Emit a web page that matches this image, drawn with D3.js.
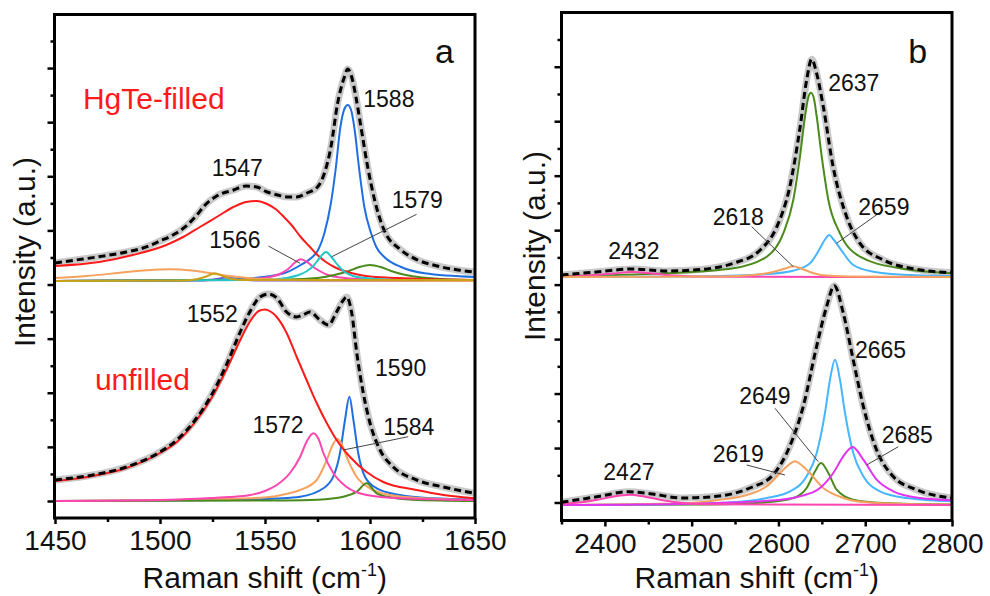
<!DOCTYPE html>
<html>
<head>
<meta charset="utf-8">
<script src="https://cdn.jsdelivr.net/npm/d3@7"></script>
<style>
    body { margin: 0; background: #fff; }
    svg { display: block; font-family: Arial, "Liberation Sans", sans-serif; }
</style>
</head>
<body>
<svg id="chart" width="990" height="596"></svg>
<script>
"use strict";

// ---- data (Raman shift in cm-1, intensity in a.u. above each baseline) ----

// panel a, HgTe-filled
const aTopFit = [[1450,0.18],[1460,0.21],[1470,0.24],[1484,0.29],[1492,0.33],[1500,0.40],[1507,0.47],[1513,0.56],[1518,0.67],[1521,0.75],[1527,0.85],[1535,0.91],[1541,0.95],[1546,0.94],[1551,0.89],[1556,0.86],[1561,0.84],[1565,0.84],[1570,0.88],[1575,0.94],[1578,1.06],[1581.4,1.34],[1584.6,1.78],[1587.8,2.04],[1589.4,2.12],[1591,2.06],[1593.3,1.84],[1595.7,1.54],[1598.9,1.14],[1602.2,0.81],[1606.7,0.51],[1614.8,0.31],[1622.7,0.21],[1632,0.15],[1642,0.11],[1650,0.09]];
const aTopRed = [[1450,0.15],[1471,0.19],[1487,0.26],[1503,0.36],[1511,0.44],[1519,0.54],[1527,0.64],[1535,0.74],[1541,0.79],[1546,0.80],[1551,0.77],[1555,0.72],[1559,0.64],[1563,0.55],[1567,0.44],[1571,0.35],[1575,0.26],[1579,0.19],[1583,0.14],[1591,0.08],[1598,0.05],[1613,0.03],[1650,0.01]];
const aTopBlue = [[1450,0.0],[1520,0.01],[1543,0.027],[1559,0.077],[1567,0.16],[1572,0.23],[1575,0.30],[1578.3,0.48],[1581.4,0.78],[1583.6,1.11],[1585.9,1.54],[1587.8,1.72],[1589.4,1.76],[1591,1.71],[1592.5,1.54],[1594.9,1.11],[1597.3,0.74],[1600.5,0.48],[1603,0.34],[1606.8,0.24],[1614.8,0.14],[1626,0.077],[1650,0.04]];
const aTopPink = [[1450,0.0],[1535,0.01],[1545,0.02],[1552,0.04],[1557,0.07],[1561,0.12],[1564,0.18],[1567,0.217],[1570,0.19],[1573,0.14],[1576,0.10],[1580,0.06],[1586,0.035],[1595,0.02],[1650,0.005]];
const aTopCyan = [[1450,0.0],[1550,0.01],[1560,0.03],[1566,0.06],[1570,0.10],[1573,0.15],[1576,0.23],[1579,0.29],[1582,0.23],[1585,0.15],[1588,0.09],[1592,0.05],[1600,0.025],[1615,0.01],[1650,0.0]];
const aTopGreen = [[1450,0.0],[1560,0.015],[1575,0.03],[1583,0.06],[1590,0.10],[1595,0.14],[1600,0.16],[1605,0.14],[1610,0.10],[1617,0.06],[1625,0.035],[1640,0.015],[1650,0.01]];
const aTopOrange = [[1450,0.03],[1465,0.05],[1480,0.08],[1492,0.105],[1505,0.117],[1515,0.105],[1525,0.075],[1533,0.05],[1542,0.03],[1555,0.015],[1575,0.006],[1650,0.0]];
const aTopGold = [[1450,0.0],[1512,0.005],[1518,0.02],[1522,0.045],[1526,0.077],[1530,0.05],[1534,0.02],[1540,0.01],[1650,0.01]];
const aTopPurple = [[1450,0.0],[1520,0.005],[1527,0.02],[1532,0.04],[1537,0.02],[1545,0.005],[1650,0.0]];

// panel a, unfilled
const aBotFit = [[1450,0.21],[1468,0.26],[1484,0.34],[1500,0.49],[1508,0.61],[1516,0.79],[1524,1.04],[1532,1.38],[1538,1.68],[1543,1.90],[1547.6,2.04],[1551.6,2.07],[1555.6,2.03],[1560.3,1.89],[1565.1,1.84],[1568,1.86],[1571.4,1.89],[1576.2,1.81],[1580.2,1.76],[1584.1,1.89],[1587,2.0],[1588.9,2.04],[1591.3,1.88],[1593.7,1.48],[1596.8,1.08],[1600,0.78],[1604.8,0.51],[1611.1,0.34],[1622.2,0.21],[1634.9,0.14],[1650,0.077]];
const aBotRed = [[1450,0.20],[1468,0.25],[1484,0.33],[1500,0.48],[1508,0.59],[1516,0.77],[1524,1.01],[1532,1.33],[1538,1.60],[1543,1.80],[1547,1.90],[1550,1.915],[1553,1.89],[1555.6,1.84],[1560.3,1.68],[1565.1,1.44],[1569.8,1.21],[1574.6,0.98],[1579.4,0.78],[1584.1,0.61],[1590.5,0.44],[1598.4,0.29],[1606.3,0.19],[1622.2,0.11],[1635,0.06],[1650,0.027]];
const aBotPink = [[1450,0.0],[1500,0.01],[1520,0.025],[1533,0.04],[1543,0.06],[1550,0.10],[1555.6,0.16],[1561.9,0.28],[1566.7,0.44],[1570,0.60],[1573,0.677],[1575.5,0.62],[1577.8,0.48],[1582.5,0.28],[1588.9,0.14],[1598.4,0.06],[1614.3,0.027],[1650,0.01]];
const aBotOrange = [[1450,0.0],[1530,0.02],[1550.8,0.037],[1560,0.07],[1566.7,0.11],[1574.6,0.21],[1579.4,0.41],[1582,0.55],[1584.4,0.62],[1586.5,0.57],[1588.9,0.44],[1593.7,0.24],[1600,0.127],[1609.5,0.06],[1625.4,0.027],[1650,0.01]];
const aBotBlue = [[1450,0.0],[1540,0.01],[1555,0.025],[1566.7,0.043],[1577.8,0.127],[1582.5,0.243],[1585.7,0.477],[1588.1,0.81],[1590.2,1.043],[1592.1,0.81],[1594.4,0.477],[1597.6,0.243],[1603.2,0.127],[1614.3,0.06],[1630,0.027],[1650,0.015]];
const aBotGreen = [[1450,0.0],[1560,0.005],[1575,0.013],[1587.3,0.043],[1593.7,0.093],[1598.4,0.177],[1603.2,0.077],[1609.5,0.037],[1620,0.013],[1650,0.0]];

// panel b, HgTe-filled
const bTopFit = [[2350,0.02],[2390,0.05],[2432,0.08],[2471,0.06],[2510,0.075],[2548,0.137],[2579,0.27],[2598,0.50],[2613,0.90],[2625,1.50],[2632.5,1.97],[2638.3,2.177],[2644,2.037],[2651.7,1.703],[2663,1.103],[2678.6,0.603],[2694,0.337],[2721,0.17],[2759,0.077],[2800,0.043]];
const bTopGreen = [[2350,0.01],[2471,0.037],[2548,0.087],[2586.5,0.203],[2605.6,0.437],[2617.1,0.77],[2624.8,1.203],[2630.6,1.603],[2634.5,1.80],[2637.5,1.843],[2641,1.78],[2644.1,1.603],[2649.9,1.203],[2657.5,0.77],[2670.9,0.437],[2694,0.203],[2740,0.087],[2800,0.037]];
const bTopBlue = [[2350,0.0],[2500,0.005],[2586.5,0.03],[2617,0.063],[2636.4,0.137],[2647.9,0.287],[2654,0.38],[2658.6,0.42],[2663,0.38],[2670.9,0.287],[2686.2,0.12],[2709.3,0.053],[2759,0.017],[2800,0.01]];
const bTopOrange = [[2350,0.0],[2540,0.005],[2567,0.017],[2594,0.05],[2608,0.085],[2617,0.107],[2626,0.085],[2636.4,0.05],[2651,0.017],[2680,0.005],[2800,0.0]];
const bTopPink = [[2350,0.003],[2380,0.015],[2410,0.035],[2431,0.05],[2455,0.035],[2480,0.015],[2520,0.003],[2800,0.0]];

// panel b, unfilled
const bBotFit = [[2350,0.027],[2394,0.087],[2427,0.133],[2452,0.113],[2490,0.07],[2529,0.087],[2567,0.17],[2594,0.303],[2613,0.587],[2628.6,0.987],[2644,1.587],[2655.6,1.987],[2664.4,2.193],[2674.7,1.92],[2686.2,1.45],[2697.8,0.987],[2713,0.553],[2732,0.287],[2759,0.153],[2800,0.07]];
const bBotPink = [[2350,0.01],[2370,0.025],[2390,0.05],[2410,0.085],[2428.9,0.103],[2445,0.085],[2465,0.05],[2490,0.02],[2520,0.007],[2800,0.0]];
const bBotOrange = [[2350,0.0],[2450,0.01],[2500,0.02],[2528.8,0.047],[2567,0.11],[2586.5,0.187],[2605.6,0.353],[2613,0.41],[2619.1,0.437],[2625,0.41],[2632.5,0.353],[2651.7,0.17],[2674.7,0.07],[2701,0.027],[2750,0.01],[2800,0.005]];
const bBotGreen = [[2350,0.0],[2520,0.005],[2586.5,0.027],[2617.1,0.07],[2632.5,0.17],[2642.2,0.337],[2649,0.42],[2657.5,0.32],[2667.1,0.153],[2686.2,0.053],[2720.8,0.02],[2800,0.005]];
const bBotBlue = [[2350,0.0],[2500,0.013],[2548,0.027],[2586.5,0.07],[2613.3,0.137],[2632.5,0.287],[2644.1,0.52],[2653.6,0.92],[2659.4,1.253],[2665.2,1.453],[2670.9,1.253],[2676.7,0.92],[2686.2,0.52],[2697.8,0.287],[2717,0.137],[2747.7,0.07],[2800,0.037]];
const bBotMagenta = [[2350,0.0],[2500,0.013],[2600,0.05],[2624.8,0.087],[2647.9,0.17],[2663.2,0.32],[2674.7,0.487],[2685.5,0.58],[2697.8,0.453],[2713.2,0.253],[2732.4,0.137],[2763.1,0.07],[2800,0.047]];

// tick labels
const aTicksMajor = [1450, 1500, 1550, 1600, 1650];
const aTicksMinor = [1475, 1525, 1575, 1625];
const bTicksMajor = [2400, 2500, 2600, 2700, 2800];
const bTicksMinor = [2350, 2450, 2550, 2650, 2750];



// colors
const colors = {
    red: "#ff1a1a", blue: "#1f6fe0", pink: "#ff45b0", cyan: "#22c8c8", green: "#4a8a1c",
    orange: "#f6a25e", gold: "#c9a21a", purple: "#8c5ad8", sky: "#45b6ff", magenta: "#e033f0"
};



// layout
const panels = [
    {
        label: "a", domain: [1450, 1650], left: 54.5, right: 475, top: 14.5, bottom: 518,
        xStart: 55, xEnd: 475, tickY: [501, 41], titleX: 35, titleY: 252,
        major: aTicksMajor, minor: aTicksMinor,
        subs: [
            { base: 281, fit: aTopFit, comps: [
                [aTopPurple, "purple"], [aTopBlue, "blue"], [aTopPink, "pink"], [aTopGreen, "green"],
                [aTopRed, "red"], [aTopCyan, "cyan"], [aTopOrange, "orange"], [aTopGold, "gold"]] },
            { base: 501, fit: aBotFit, comps: [
                [aBotBlue, "blue"], [aBotOrange, "orange"], [aBotGreen, "green"], [aBotPink, "pink"], [aBotRed, "red"]] }
        ],
        notes: [
            { s: 0, t: "HgTe-filled", x: 1463.3, y: 1.72, size: 30, fill: colors.red },
            { s: 0, t: "a", x: 1631, y: 2.18, size: 34 },
            { s: 0, t: "1547", x: 1524.6, y: 1.05 },
            { s: 0, t: "1588", x: 1596.8, y: 1.737 },
            { s: 0, t: "1579", x: 1610.3, y: 0.727, lead: [[1622.2, 0.667], [1581.8, 0.243]] },
            { s: 0, t: "1566", x: 1523.5, y: 0.327, lead: [[1551.6, 0.35], [1566.7, 0.177]] },
            { s: 1, t: "unfilled", x: 1469, y: 1.11, size: 30, fill: colors.red },
            { s: 1, t: "1552", x: 1512.7, y: 1.793 },
            { s: 1, t: "1590", x: 1602.4, y: 1.253 },
            { s: 1, t: "1572", x: 1544, y: 0.677 },
            { s: 1, t: "1584", x: 1606.3, y: 0.66, lead: [[1618.2, 0.643], [1587.3, 0.51]] }
        ]
    },
    {
        label: "b", domain: [2350, 2800], left: 561.5, right: 952, top: 12.5, bottom: 520.5,
        xStart: 561.5, xEnd: 952, tickY: [502.5, 39.5], titleX: 545, titleY: 246,
        major: bTicksMajor, minor: bTicksMinor,
        subs: [
            { base: 277, fit: bTopFit, comps: [
                [bTopGreen, "green"], [bTopBlue, "sky"], [bTopPink, "pink"], [bTopOrange, "orange"]] },
            { base: 505, fit: bBotFit, comps: [
                [bBotGreen, "green"], [bBotBlue, "sky"], [bBotOrange, "orange"], [bBotMagenta, "magenta"], [bBotPink, "pink"]] }
        ],
        notes: [
            { s: 0, t: "b", x: 2749.6, y: 2.143, size: 34 },
            { s: 0, t: "2637", x: 2657.4, y: 1.863 },
            { s: 0, t: "2618", x: 2524.2, y: 0.52, lead: [[2569.2, 0.503], [2617.1, 0.103]] },
            { s: 0, t: "2659", x: 2692, y: 0.62, lead: [[2720.8, 0.67], [2667.1, 0.337]] },
            { s: 0, t: "2432", x: 2403.9, y: 0.177 },
            { s: 1, t: "2665", x: 2688.2, y: 1.467 },
            { s: 1, t: "2649", x: 2554.9, y: 1.01, lead: [[2596, 0.967], [2645.9, 0.433]] },
            { s: 1, t: "2619", x: 2524.2, y: 0.433, lead: [[2563.4, 0.4], [2607.5, 0.3]] },
            { s: 1, t: "2685", x: 2719, y: 0.617, lead: [[2738.1, 0.583], [2701.7, 0.4]] },
            { s: 1, t: "2427", x: 2398.2, y: 0.25 }
        ]
    }
];



const svg = d3.select("#chart");

panels.forEach(p => {

    let g = svg.append("g").attr("class", "panel_" + p.label);



    // scale for X
    let scaleX = d3.scaleLinear().domain(p.domain).range([p.xStart, p.xEnd]);



    // scales for Y, one per stacked spectrum (1 a.u. = 100 px)
    let scalesY = p.subs.map(s => d3.scaleLinear().domain([0, 1]).range([s.base, s.base - 100]));



    // spectra
    p.subs.forEach((s, i) => {
        let line = d3.line()
        .x(d => scaleX(d[0]))
        .y(d => scalesY[i](d[1]))
        .curve(d3.curveMonotoneX);

        // measured spectrum (grey) under everything
        g.append("path")
        .datum(s.fit)
        .attr("d", line)
        .attr("fill", "none")
        .attr("stroke", "#c9c9c9")
        .attr("stroke-width", 7)
        .attr("stroke-linejoin", "round");

        // fitted components
        s.comps.forEach(c => {
            g.append("path")
            .datum(c[0])
            .attr("d", line)
            .attr("fill", "none")
            .attr("stroke", colors[c[1]])
            .attr("stroke-width", 2);
        });

        // cumulative fit
        g.append("path")
        .datum(s.fit)
        .attr("d", line)
        .attr("fill", "none")
        .attr("stroke", "#000")
        .attr("stroke-width", 3)
        .attr("stroke-dasharray", "7,4");
    });



    // annotations
    p.notes.forEach(n => {
        let sy = scalesY[n.s];
        if (n.lead) {
            g.append("line")
            .attr("x1", scaleX(n.lead[0][0])).attr("y1", sy(n.lead[0][1]))
            .attr("x2", scaleX(n.lead[1][0])).attr("y2", sy(n.lead[1][1]))
            .attr("stroke", "#444")
            .attr("stroke-width", 1);
        }
        g.append("text")
        .attr("x", scaleX(n.x))
        .attr("y", sy(n.y))
        .attr("font-size", n.size || 23)
        .attr("fill", n.fill || "#111")
        .text(n.t);
    });



    // frame
    g.append("rect")
    .attr("x", p.left).attr("y", p.top)
    .attr("width", p.right - p.left).attr("height", p.bottom - p.top)
    .attr("fill", "none")
    .attr("stroke", "#000")
    .attr("stroke-width", 3);



    // y ticks (no labels), major every second
    let scaleTick = d3.scaleLinear().domain([0, 17]).range(p.tickY);
    let yMajor = g.append("g")
    .attr("transform", `translate(${p.left}, 0)`)
    .call(d3.axisLeft(scaleTick).tickValues(d3.range(0, 18, 2)).tickSize(7).tickFormat(""));
    let yMinor = g.append("g")
    .attr("transform", `translate(${p.left}, 0)`)
    .call(d3.axisLeft(scaleTick).tickValues(d3.range(1, 18, 2)).tickSize(4).tickFormat(""));
    [yMajor, yMinor].forEach(a => {
        a.select(".domain").remove();
        a.selectAll("line").attr("stroke-width", 2.5);
    });



    // x axis
    let xMajor = g.append("g")
    .attr("transform", `translate(0, ${p.bottom})`)
    .call(d3.axisBottom(scaleX).tickValues(p.major).tickSize(6).tickFormat(d3.format("d")));
    let xMinor = g.append("g")
    .attr("transform", `translate(0, ${p.bottom})`)
    .call(d3.axisBottom(scaleX).tickValues(p.minor).tickSize(4).tickFormat(""));
    [xMajor, xMinor].forEach(a => {
        a.select(".domain").remove();
        a.selectAll("line").attr("stroke-width", 2.5);
    });
    xMajor.selectAll("text")
    .attr("font-size", 28)
    .attr("font-family", null)
    .attr("fill", "#111")
    .attr("dy", null)
    .attr("y", 32);



    // axis titles
    let xt = g.append("text")
    .attr("x", (p.left + p.right) / 2)
    .attr("y", 588)
    .attr("text-anchor", "middle")
    .attr("font-size", 30)
    .attr("fill", "#111");
    xt.append("tspan").text("Raman shift (cm");
    xt.append("tspan").attr("font-size", 18).attr("dy", -12).text("-1");
    xt.append("tspan").attr("dy", 12).text(")");

    g.append("text")
    .attr("transform", `translate(${p.titleX}, ${p.titleY}) rotate(-90)`)
    .attr("text-anchor", "middle")
    .attr("font-size", 30)
    .attr("fill", "#111")
    .text("Intensity (a.u.)");
});
</script>
</body>
</html>
